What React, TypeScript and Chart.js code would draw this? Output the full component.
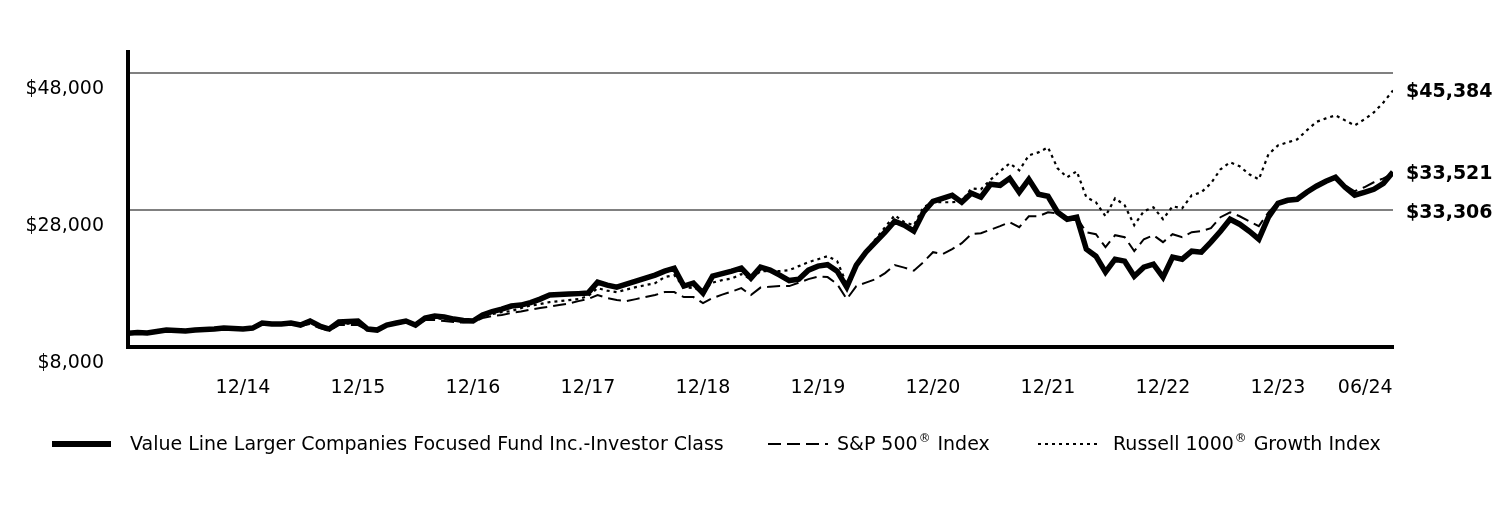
import React, { useEffect, useRef } from 'react';
import { Chart, registerables } from 'chart.js';

Chart.register(...registerables);

const FONT = '"DejaVu Sans", Verdana, sans-serif';
const FONT_SIZE = 19;

const seriesNames = [
  'Value Line Larger Companies Focused Fund Inc.-Investor Class',
  'S&P 500® Index',
  'Russell 1000® Growth Index',
];

const fundValues = [
  10000, 10110, 10040, 10260, 10470, 10400, 10330, 10470, 10550, 10620,
  10760, 10690, 10620, 10760, 11490, 11350, 11350, 11490, 11200, 11780,
  11060, 10620, 11640, 11710, 11780, 10620, 10470, 11200, 11490, 11780,
  11200, 12220, 12510, 12370, 12070, 11860, 11780, 12660, 13170, 13530,
  13970, 14110, 14480, 14980, 15570, 15640, 15710, 15780, 15860, 17460,
  17020, 16730, 17170, 17600, 18040, 18480, 19060, 19490, 16880, 17310,
  15860, 18330, 18690, 19060, 19490, 18040, 19640, 19200, 18480, 17680,
  17890, 19200, 19790, 20000, 19060, 16730, 19930, 21820, 23280, 24730,
  26330, 25750, 24880, 27640, 29240, 29680, 30120, 29100, 30410, 29830,
  31720, 31570, 32590, 30550, 32440, 30260, 29970, 27640, 26620, 26920,
  22260, 21240, 18910, 20800, 20510, 18330, 19640, 20080, 18190, 21100,
  20800, 21970, 21820, 23280, 24880, 26620, 25900, 24880, 23710, 26920,
  28950, 29390, 29530, 30550, 31430, 32150, 32740, 31280, 30120, 30550,
  30990, 31860, 33521,
];

const spValues = [
  10000, 10040, 9960, 10180, 10400, 10330, 10260, 10400, 10470, 10550,
  10690, 10620, 10550, 10620, 11350, 11200, 11270, 11350, 11060, 11350,
  10760, 10330, 11200, 11200, 11200, 10470, 10400, 11060, 11350, 11640,
  11130, 11930, 11930, 11780, 11640, 11560, 11640, 12220, 12510, 12660,
  12950, 13170, 13460, 13670, 13890, 14110, 14330, 14690, 14980, 15570,
  15130, 14840, 14690, 14980, 15280, 15570, 16000, 16000, 15280, 15280,
  14400, 15130, 15640, 16080, 16580, 15570, 16660, 16800, 16880, 16880,
  17380, 17890, 18260, 18190, 17170, 14980, 16880, 17380, 17890, 18770,
  19930, 19570, 19130, 20370, 21820, 21530, 22260, 23130, 24440, 24590,
  25100, 25610, 26190, 25460, 27060, 27060, 27640, 27500, 26480, 26920,
  24730, 24440, 22550, 24300, 24010, 21970, 23710, 24300, 23280, 24440,
  24010, 24730, 24880, 25310, 26920, 27640, 27060, 26330, 25610, 27640,
  29100, 29390, 29530, 30550, 31570, 32150, 32740, 31570, 30700, 31280,
  32010, 32590, 33306,
];

const russellValues = [
  10000, 10040, 9960, 10180, 10400, 10330, 10260, 10400, 10470, 10550,
  10690, 10620, 10550, 10690, 11350, 11270, 11270, 11420, 11130, 11560,
  10910, 10470, 11350, 11420, 11490, 10550, 10400, 11130, 11350, 11640,
  11130, 12000, 12220, 12070, 11860, 11710, 11710, 12440, 12800, 13090,
  13240, 13670, 14040, 14260, 14550, 14690, 14840, 14980, 15420, 16580,
  16220, 16000, 16370, 16730, 17020, 17310, 18190, 18480, 16730, 16580,
  16150, 17380, 17750, 17970, 18620, 17890, 19060, 19060, 19060, 19200,
  19790, 20370, 20800, 21240, 20510, 17170, 20080, 21970, 23710, 25460,
  27210, 26190, 25750, 28370, 29100, 29100, 29100, 29240, 31130, 30990,
  32370, 33610, 34770, 33750, 35940, 36370, 37100, 34040, 32740, 33610,
  29830, 29100, 27060, 29680, 28660, 25750, 27790, 28370, 26620, 28520,
  28220, 30120, 30550, 31860, 33900, 34920, 34340, 33170, 32440, 36080,
  37390, 37830, 38260, 39570, 40810, 41320, 41760, 41030, 40300, 41170,
  42190, 43650, 45384,
];

const xTickIndex = [12, 24, 36, 48, 60, 72, 84, 96, 108, 120, 129.1];
const xTickLabels = ['12/14', '12/15', '12/16', '12/17', '12/18', '12/19', '12/20', '12/21', '12/22', '12/23', '06/24'];
const yTickValues = [8000, 28000, 48000];
const yMin = 8000;
const yMax = 51000;

const fmtMoney = (v: number) => '$' + Math.round(v).toLocaleString('en-US');

function toPoints(values: number[]) {
  return values.map((v, i) => ({ x: i, y: v }));
}

const styles = [
  { width: 5.5, dash: [] as number[] },
  { width: 2, dash: [13, 6] },
  { width: 2.2, dash: [3, 4] },
];

function drawRichText(ctx: CanvasRenderingContext2D, text: string, x: number, y: number) {
  // draws text, raising the ® mark as a superscript
  const parts = text.split('®');
  let cx = x;
  parts.forEach((p, idx) => {
    ctx.font = `${FONT_SIZE}px ${FONT}`;
    ctx.fillText(p, cx, y);
    cx += ctx.measureText(p).width;
    if (idx < parts.length - 1) {
      ctx.font = `${FONT_SIZE * 0.62}px ${FONT}`;
      ctx.fillText('®', cx + 1, y - 6);
      cx += ctx.measureText('®').width + 2;
    }
  });
}

const legendPlugin = {
  id: 'customLegend',
  afterDraw(chart: any) {
    const ctx: CanvasRenderingContext2D = chart.ctx;
    const legendY = 445;
    const items = [
      { x0: 52, x1: 111, tx: 130 },
      { x0: 768, x1: 828, tx: 837 },
      { x0: 1038, x1: 1098, tx: 1113 },
    ];
    ctx.save();
    ctx.fillStyle = '#000';
    ctx.strokeStyle = '#000';
    ctx.textBaseline = 'middle';
    ctx.textAlign = 'left';
    items.forEach((it, i) => {
      ctx.lineWidth = i === 0 ? 6 : styles[i].width;
      ctx.setLineDash(styles[i].dash);
      ctx.beginPath();
      ctx.moveTo(it.x0, legendY - 1);
      ctx.lineTo(it.x1, legendY - 1);
      ctx.stroke();
      drawRichText(ctx, seriesNames[i], it.tx, legendY);
    });
    ctx.setLineDash([]);

    // end-value labels
    const yScale = chart.scales.y;
    const ends = [
      { v: russellValues[russellValues.length - 1] },
      { v: fundValues[fundValues.length - 1] },
      { v: spValues[spValues.length - 1] },
    ].sort((a, b) => b.v - a.v);
    let prevY = -Infinity;
    ctx.font = `bold ${FONT_SIZE}px ${FONT}`;
    ends.forEach((e) => {
      let y = yScale.getPixelForValue(e.v);
      if (y < prevY + 39) y = prevY + 39;
      prevY = y;
      ctx.fillText(fmtMoney(e.v), chart.chartArea.right + 13, y + 2);
    });
    ctx.restore();
  },
};

export default function App() {
  const canvasRef = useRef<HTMLCanvasElement | null>(null);

  useEffect(() => {
    if (!canvasRef.current) return;
    const allSeries = [fundValues, spValues, russellValues];
    const chart = new Chart(canvasRef.current, {
      type: 'line',
      data: {
        datasets: allSeries.map((vals, i) => ({
          label: seriesNames[i],
          data: toPoints(vals),
          borderColor: '#000',
          backgroundColor: '#000',
          borderWidth: styles[i].width,
          borderDash: styles[i].dash,
          pointRadius: 0,
          tension: 0,
          fill: false,
          order: 3 - i,
          borderJoinStyle: 'miter' as const,
        })),
      },
      options: {
        animation: false,
        responsive: false,
        maintainAspectRatio: false,
        layout: { padding: { left: 0, right: 119, top: 52, bottom: 0 } },
        plugins: {
          legend: { display: false },
          tooltip: { enabled: false },
        },
        scales: {
          x: {
            type: 'linear',
            min: 0,
            max: fundValues.length - 1,
            afterBuildTicks: (scale: any) => {
              scale.ticks = xTickIndex.map((v) => ({ value: v }));
            },
            afterFit: (scale: any) => {
              scale.height = 528 - 347;
            },
            grid: { display: false, drawTicks: false },
            border: { display: true, color: '#000', width: 4 },
            ticks: {
              autoSkip: false,
              maxRotation: 0,
              padding: 30,
              color: '#000',
              font: { family: FONT, size: FONT_SIZE },
              callback: (value: any) => {
                const idx = xTickIndex.indexOf(Number(value));
                return idx >= 0 ? xTickLabels[idx] : '';
              },
            },
          },
          y: {
            type: 'linear',
            min: yMin,
            max: yMax,
            afterBuildTicks: (scale: any) => {
              scale.ticks = yTickValues.map((v) => ({ value: v }));
            },
            afterFit: (scale: any) => {
              scale.width = 128;
            },
            grid: {
              drawTicks: false,
              lineWidth: 2,
              color: (ctx: any) => (ctx.tick && ctx.tick.value === yMin ? 'rgba(0,0,0,0)' : '#808080'),
            },
            border: { display: true, color: '#000', width: 4 },
            ticks: {
              padding: 24,
              labelOffset: 16,
              color: '#000',
              font: { family: FONT, size: FONT_SIZE },
              callback: (value: any) => fmtMoney(Number(value)),
            },
          },
        },
      },
      plugins: [legendPlugin],
    });
    return () => chart.destroy();
  }, []);

  return (
    <div style={{ position: 'fixed', left: 0, top: 0, width: 1512, height: 528, background: '#fff' }}>
      <canvas ref={canvasRef} width={1512} height={528} style={{ width: 1512, height: 528, display: 'block' }} />
    </div>
  );
}
